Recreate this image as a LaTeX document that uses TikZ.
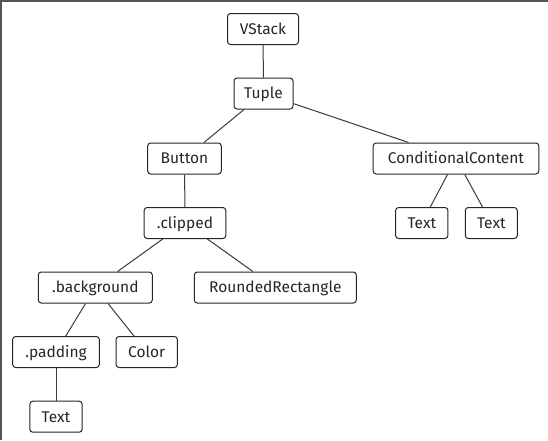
\documentclass[tikz,border=0pt]{standalone}
\usepackage{fontspec}
\setmainfont{Fira Sans}
\definecolor{framegray}{HTML}{555555}
\definecolor{linegray}{HTML}{3a3a3a}
\begin{document}
\begin{tikzpicture}[x=1pt,y=-1pt,
  tnode/.style={draw=black!85, line width=1pt, rounded corners=3pt, fill=white,
    minimum height=31pt, inner xsep=2pt, inner ysep=0pt, text height=10.6pt, text depth=0pt,
    font=\fontsize{15.5}{17}\selectfont, text=black!85},
  edge/.style={draw=linegray, line width=1pt}]
\useasboundingbox (0,0) rectangle (548,440);
\fill[framegray] (0,0) rectangle (548,2);
\fill[framegray] (0,0) rectangle (2,440);
\node[tnode, minimum width=71pt] (vstack) at (263,29) {VStack};
\node[tnode, minimum width=59pt] (tuple) at (263.5,93.5) {Tuple};
\node[tnode, minimum width=73.6pt] (button) at (184.5,158.5) {Button};
\node[tnode, minimum width=165.7pt] (cond) at (456,158.5) {ConditionalContent};
\node[tnode, minimum width=81.7pt] (clipped) at (185,223) {.clipped};
\node[tnode, minimum width=52.3pt] (text1) at (421.8,223) {Text};
\node[tnode, minimum width=52pt] (text2) at (491.3,223) {Text};
\node[tnode, minimum width=114pt] (bg) at (95.3,287.5) {.background};
\node[tnode, minimum width=162pt] (rrect) at (275.3,287.5) {RoundedRectangle};
\node[tnode, minimum width=86.6pt] (padding) at (56,352) {.padding};
\node[tnode, minimum width=61.3pt] (color) at (146.7,352) {Color};
\node[tnode, minimum width=52.3pt] (text3) at (56,416.7) {Text};
\draw[edge] (vstack) -- (tuple);
\draw[edge] (tuple) -- (button);
\draw[edge] (tuple) -- (cond);
\draw[edge] (button) -- (clipped);
\draw[edge] (cond) -- (text1);
\draw[edge] (cond) -- (text2);
\draw[edge] (clipped) -- (bg);
\draw[edge] (clipped) -- (rrect);
\draw[edge] (bg) -- (padding);
\draw[edge] (bg) -- (color);
\draw[edge] (padding) -- (text3);
\end{tikzpicture}
\end{document}
